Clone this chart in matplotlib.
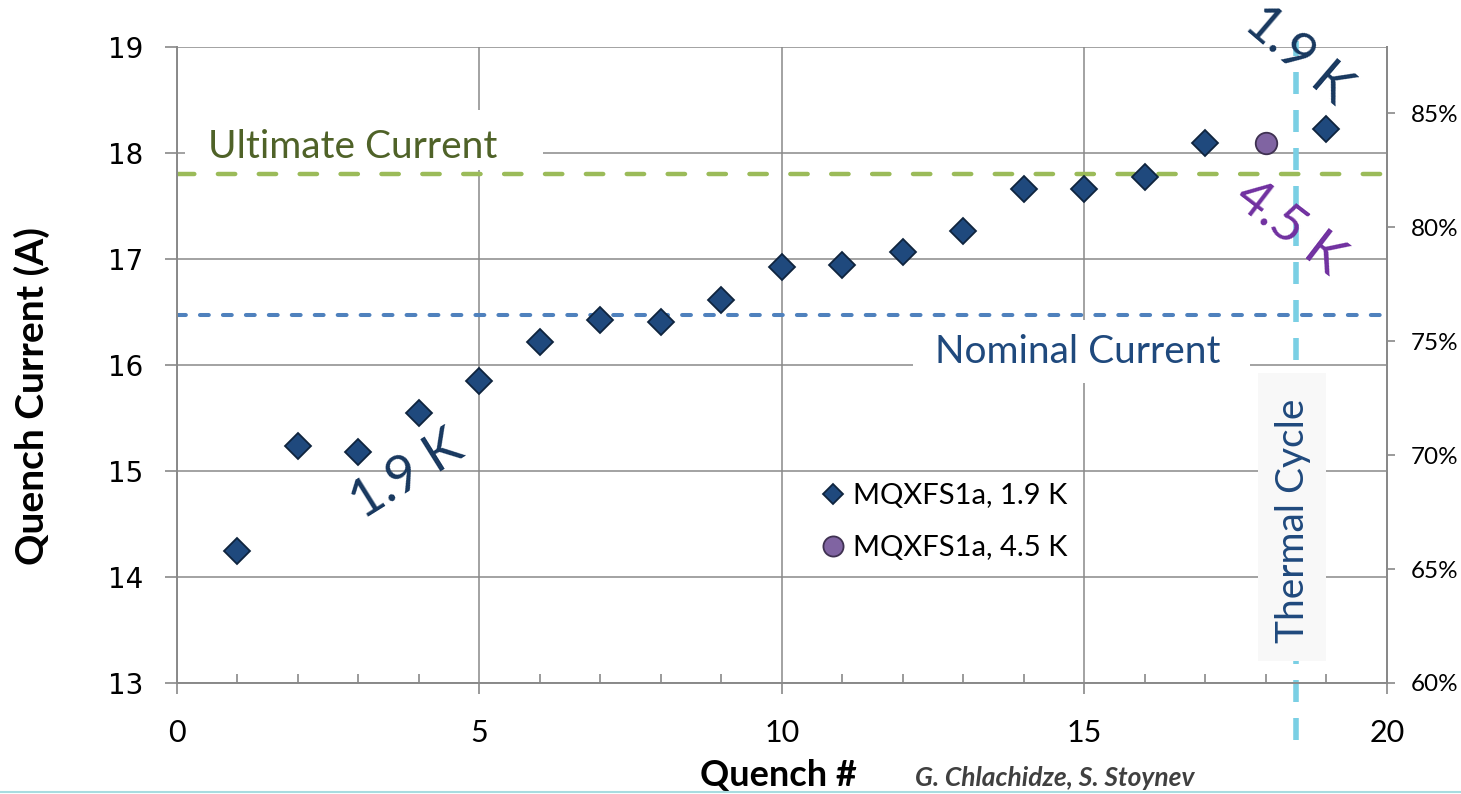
import matplotlib
matplotlib.use("Agg")
import matplotlib.pyplot as plt
from matplotlib.lines import Line2D
from matplotlib.patches import Rectangle
from matplotlib.ticker import MultipleLocator, FixedLocator, FuncFormatter

# ---- data -------------------------------------------------------------
quench_19k = [1, 2, 3, 4, 5, 6, 7, 8, 9, 10, 11, 12, 13, 14, 15, 16, 17, 19]
current_19k = [14.25, 15.24, 15.18, 15.55, 15.85, 16.22, 16.42, 16.41, 16.61,
               16.92, 16.94, 17.07, 17.26, 17.66, 17.66, 17.77, 18.09, 18.23]
quench_45k = [18]
current_45k = [18.09]

nominal_current = 16.47
ultimate_current = 17.80
thermal_cycle_quench = 18.5

current_range = (13, 19)
percent_range = (60, 87.9)

x_major_ticks = [0, 5, 10, 15, 20]
y_ticks = [13, 14, 15, 16, 17, 18, 19]
pct_ticks = [60, 65, 70, 75, 80, 85]

series_labels = ["MQXFS1a, 1.9 K", "MQXFS1a, 4.5 K"]

# ---- style ------------------------------------------------------------
plt.rcParams["font.family"] = ["Lato", "DejaVu Sans"]
grid_gray = "#898989"
navy = "#1F497D"
diamond_fill = "#1F497D"
diamond_edge = "#0F243E"
circle_fill = "#8064A2"
circle_edge = "#3F3151"
green_line = "#9BBB59"
blue_line = "#4F81BD"
cyan_line = "#7ACFE4"

fig = plt.figure(figsize=(14.61, 7.94), dpi=100)
ax = fig.add_axes([0.1211, 0.1398, 0.8282, 0.8010])

ax.set_xlim(0, 20)
ax.set_ylim(*current_range)
ax.set_axisbelow(True)

ax.xaxis.set_major_locator(FixedLocator(x_major_ticks))
ax.xaxis.set_minor_locator(MultipleLocator(1))
ax.yaxis.set_major_locator(FixedLocator(y_ticks))

ax.grid(True, which="major", color=grid_gray, lw=1.1)
for side in ["left", "bottom", "top", "right"]:
    ax.spines[side].set_color(grid_gray)
    ax.spines[side].set_linewidth(1.4)
ax.spines["top"].set_visible(False)

ax.tick_params(axis="x", which="major", direction="out", length=8, width=1.2,
               color=grid_gray, labelsize=22, pad=18)
ax.tick_params(axis="x", which="minor", direction="in", length=6.5, width=1.2,
               color=grid_gray)
ax.tick_params(axis="y", which="major", direction="out", length=8.5, width=1.2,
               color=grid_gray, labelsize=20, pad=16)
for lab in ax.get_yticklabels():
    lab.set_fontfamily("DejaVu Sans")

# percent-of-short-sample axis
ax2 = ax.twinx()
ax2.set_ylim(*percent_range)
ax2.yaxis.set_major_locator(FixedLocator(pct_ticks))
ax2.yaxis.set_major_formatter(FuncFormatter(lambda v, p: f"{v:.0f}%"))
ax2.tick_params(axis="y", direction="out", length=6, width=1.2, color=grid_gray,
                labelsize=17.5, pad=11)
for side in ["left", "bottom", "top"]:
    ax2.spines[side].set_visible(False)
ax2.spines["right"].set_color(grid_gray)
ax2.spines["right"].set_linewidth(1.4)

# label backgrounds that hide the grid
ax.add_patch(Rectangle((0.13, 17.84), 5.92, 0.57, facecolor="white",
                       edgecolor="none", zorder=1))
ax.add_patch(Rectangle((12.17, 15.83), 5.57, 0.59, facecolor="white",
                       edgecolor="none", zorder=1))

# reference currents
ax.axhline(ultimate_current, color=green_line, lw=3.2, dashes=(3.9, 5.3),
           dash_capstyle="round", zorder=2)
ax.axhline(nominal_current, color=blue_line, lw=2.9, dashes=(2.2, 3.5),
           dash_capstyle="round", zorder=2)

# thermal cycle marker
ax.axvline(thermal_cycle_quench, ymin=-0.09, ymax=1.01, color=cyan_line, lw=4,
           dashes=(3.96, 2.88), dash_capstyle="butt", clip_on=False, zorder=2)
ax.add_patch(Rectangle((17.87, 13.21), 1.12, 2.71, facecolor="#F8F8F8",
                       edgecolor="none", zorder=3))

# measurements
l19, = ax.plot(quench_19k, current_19k, ls="none", marker="D", ms=13,
               mfc=diamond_fill, mec=diamond_edge, mew=1.3, zorder=4,
               label=series_labels[0])
l45, = ax.plot(quench_45k, current_45k, ls="none", marker="o", ms=15.5,
               mfc=circle_fill, mec=circle_edge, mew=1.3, zorder=4,
               label=series_labels[1])

leg = ax.legend(handles=[l19, l45], loc="upper left",
                bbox_to_anchor=(0.531, 0.3145), frameon=False, fontsize=21,
                handlelength=0.95, handletextpad=0.2, labelspacing=0.9,
                borderpad=0, borderaxespad=0)
leg.legend_handles[0].set_markersize(10)
leg.legend_handles[1].set_markersize(14.5)

# annotations
ax.text(0.51, 17.95, "Ultimate Current", color="#4F6228", fontsize=28,
        ha="left", va="baseline", zorder=5)
ax.text(12.53, 16.02, "Nominal Current", color=navy, fontsize=28,
        ha="left", va="baseline", zorder=5)
ax.text(18.44, 14.53, "Thermal Cycle", color=navy, fontsize=28, rotation=90,
        ha="center", va="center", zorder=5)
ax.text(3.8, 14.96, "1.9 K", color="#17375E", fontsize=38, rotation=32,
        ha="center", va="center", zorder=5)
ax.text(18.53, 18.92, "1.9 K", color="#17375E", fontsize=38, rotation=-40.5,
        ha="center", va="center", zorder=5, clip_on=False)
ax.text(18.38, 17.30, "4.5 K", color="#7030A0", fontsize=38, rotation=-37.5,
        ha="center", va="center", zorder=5)

# axis titles
ax.set_xlabel("Quench #", fontsize=26, fontweight="bold")
ax.xaxis.label.set_verticalalignment("baseline")
ax.xaxis.set_label_coords(0.497, -0.162)
ax.set_ylabel("Quench Current (A)", fontsize=28, fontweight="bold")
ax.yaxis.set_label_coords(-0.105, 0.451)

fig.text(1055 / 1461, 1 - 778 / 794, "G. Chlachidze, S. Stoynev",
         fontsize=19, fontweight="bold", fontstyle="italic", color="#404040",
         ha="center", va="center")

fig.add_artist(Line2D([0, 1], [0.003, 0.003], transform=fig.transFigure,
                      color="#A8DCE0", lw=1.5))

fig.savefig("out.png", dpi=100)
